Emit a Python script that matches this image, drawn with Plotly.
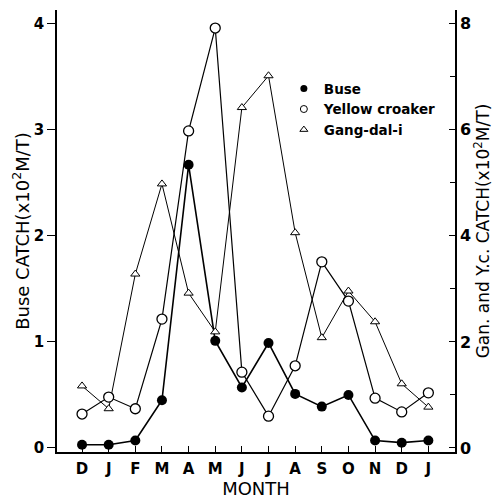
import plotly.graph_objects as go

months = ["D", "J", "F", "M", "A", "M", "J", "J", "A", "S", "O", "N", "D", "J"]
idx = list(range(len(months)))

buse = [0.03, 0.03, 0.07, 0.45, 2.67, 1.01, 0.57, 0.99, 0.51, 0.39, 0.50, 0.07, 0.05, 0.07]
yellow_croaker = [0.64, 0.96, 0.74, 2.43, 5.98, 7.92, 1.43, 0.60, 1.55, 3.51, 2.77, 0.94, 0.68, 1.04]
gang_dal_i = [1.17, 0.74, 3.28, 4.98, 2.92, 2.19, 6.42, 7.02, 4.06, 2.08, 2.96, 2.38, 1.21, 0.77]

FONT = "DejaVu Sans"
fig = go.Figure()

fig.add_trace(go.Scatter(x=idx, y=gang_dal_i, yaxis="y2", mode="lines+markers",
                         line=dict(color="black", width=1),
                         marker=dict(symbol="triangle-up", size=8, color="white",
                                     line=dict(color="black", width=1)),
                         showlegend=False))
fig.add_trace(go.Scatter(x=idx, y=yellow_croaker, yaxis="y2", mode="lines+markers",
                         line=dict(color="black", width=1.2),
                         marker=dict(symbol="circle", size=10, color="white",
                                     line=dict(color="black", width=1.3)),
                         showlegend=False))
fig.add_trace(go.Scatter(x=idx, y=buse, yaxis="y", mode="lines+markers",
                         line=dict(color="black", width=1.6),
                         marker=dict(symbol="circle", size=10, color="black"),
                         showlegend=False))

# legend entries
fig.add_trace(go.Scatter(x=[None], y=[None], mode="markers", name="Buse",
                         marker=dict(symbol="circle", size=7, color="black")))
fig.add_trace(go.Scatter(x=[None], y=[None], mode="markers", name="Yellow croaker",
                         marker=dict(symbol="circle", size=7, color="white",
                                     line=dict(color="black", width=1))))
fig.add_trace(go.Scatter(x=[None], y=[None], mode="markers", name="Gang-dal-i",
                         marker=dict(symbol="triangle-up", size=7, color="white",
                                     line=dict(color="black", width=1))))

fig.update_layout(
    width=498, height=502,
    margin=dict(l=57, r=43, t=10, b=50, autoexpand=False),
    paper_bgcolor="white", plot_bgcolor="white",
    font=dict(family=FONT, color="black", size=15),
    legend=dict(x=0.57, y=0.857, xanchor="left", yanchor="top",
                bgcolor="rgba(0,0,0,0)", tracegroupgap=0,
                font=dict(size=13.5, family=FONT, weight="bold"),
                itemwidth=30),
    xaxis=dict(range=[-0.94, 14.0], tickmode="array", tickvals=idx, ticktext=months,
               showgrid=False, zeroline=False, showline=True, linecolor="black",
               linewidth=1.5, ticks="inside", ticklen=6, tickcolor="black",
               tickfont=dict(size=15, weight="bold"), automargin=False,
               ticklabelstandoff=2,
               title=dict(text="MONTH", font=dict(size=18), standoff=0)),
    yaxis=dict(range=[-0.038, 4.13], tickvals=[0, 1, 2, 3, 4],
               showgrid=False, zeroline=False, showline=True, linecolor="black",
               linewidth=1.5, ticks="outside", ticklen=8, tickcolor="black",
               tickfont=dict(size=15, weight="bold"), automargin=False,
               title=dict(text="Buse CATCH(x10<sup>2</sup>M/T)", font=dict(size=18), standoff=0)),
    yaxis2=dict(range=[-0.076, 8.26], tickvals=[0, 2, 4, 6, 8], overlaying="y", side="right",
                anchor="x", showgrid=False, zeroline=False, showline=True, linecolor="black",
                linewidth=1.5, ticks="inside", ticklen=6, tickcolor="black",
                minor=dict(dtick=1, ticks="inside", ticklen=5, tickcolor="black"),
                tickfont=dict(size=16, weight="bold"), automargin=False,
                title=dict(text="Gan. and Y.c. CATCH(x10<sup>2</sup>M/T)", font=dict(size=17), standoff=0)),
)

fig.write_html("out.html", config={"displayModeBar": False},
               post_script="document.body.style.margin='0px';")
